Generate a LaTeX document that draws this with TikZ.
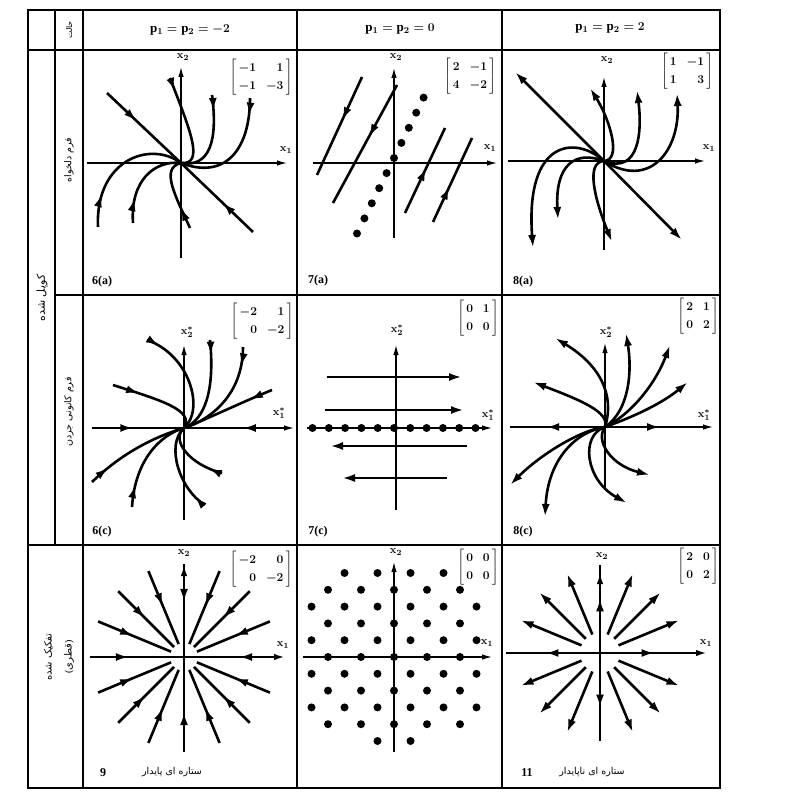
\documentclass[tikz,border=0pt]{standalone}
\usepackage{fontspec}
\setmainfont{Liberation Serif}
\newfontfamily\arabicfont[Script=Arabic]{DejaVu Sans}
\TeXXeTstate=1
\usetikzlibrary{arrows.meta,decorations.markings}
\newcommand{\sysmat}[1]{$\left[\begin{array}{@{\,}rr@{\,}}#1\end{array}\right]$}
\newcommand{\persian}[1]{{\arabicfont\beginR #1\endR}}
\renewcommand{\arraystretch}{1.3}

\begin{document}
\begin{tikzpicture}[x=1pt, y=-1pt,
  rule/.style={line width=1.5pt},
  axisline/.style={line width=1.2pt, -{Latex[length=10pt,width=5.5pt]}},
  flow/.style={line width=2.6pt},
  tipout/.style={flow, -{Latex[length=13pt,width=8pt]}},
  midarrow/.style={postaction={decorate,decoration={markings,mark=at position #1 with {\arrow{Latex[length=13pt,width=8pt]}}}}},
  axlabel/.style={font=\fontsize{11}{13}\selectfont\boldmath, inner sep=0pt},
  matnode/.style={font=\fontsize{11.5}{14}\selectfont\boldmath, inner sep=0pt},
  caption/.style={font=\fontsize{12}{14}\selectfont\bfseries, inner sep=1pt},
  head/.style={font=\fontsize{13}{15}\selectfont\boldmath},
  fatext/.style={font=\fontsize{9.5}{11}\selectfont, rotate=90, inner sep=1pt, align=center}
]
\useasboundingbox (0,0) rectangle (795,802);

% table rules
\draw[rule] (28,10) rectangle (720,788);
\draw[rule] (28,50) -- (720,50);
\draw[rule] (55,295) -- (720,295);
\draw[rule] (28,545) -- (720,545);
\draw[rule] (55,10) -- (55,545);
\draw[rule] (83,10) -- (83,788);
\draw[rule] (297,10) -- (297,788);
\draw[rule] (502,10) -- (502,788);

% headers
\node[fatext, font=\fontsize{8}{9}\selectfont] (kind) at (69,30) {\persian{حالت}};
\node[head] (hneg) at (190,30) {$\mathrm{p}_1=\mathrm{p}_2=-2$};
\node[head] (hzero) at (400,29) {$\mathrm{p}_1=\mathrm{p}_2=0$};
\node[head] (hpos) at (610,28) {$\mathrm{p}_1=\mathrm{p}_2=2$};
\node[fatext, font=\fontsize{11}{13}\selectfont] (coupled) at (42,298) {\persian{کوپل شده}};
\node[fatext] (arbitrary) at (69,160) {\persian{فرم دلخواه}};
\node[fatext] (jordan) at (69,412) {\persian{فرم کانونی جردن}};
\node[fatext, font=\fontsize{10}{20}\selectfont] (decoupled) at (59,657) {\persian{تفکیک شده}\\(\persian{قطری})};

% 6(a)
\draw[axisline] (87,163) -- (287,163);
\draw[axisline] (181,258) -- (181,67);
\node[axlabel] (x1a) at (286,150) {$\mathbf{x}_1$};
\node[axlabel] (x2a) at (183,57) {$\mathbf{x}_2$};
\node[matnode] (ma) at (261,77) {\sysmat{-1 & 1\\ -1 & -3}};
\node[caption] (c6a) at (102,282) {6(a)};
\draw[flow, midarrow=0.4] (107,93) -- (181,163);
\draw[flow, midarrow=0.42] (253,232) -- (181,163);
\draw[flow, midarrow=0.14] (170,78) .. controls (190,130) and (205,165) .. (181,163);
\draw[flow, midarrow=0.18] (212,95) .. controls (218,140) and (210,168) .. (181,163);
\draw[flow, midarrow=0.15] (250,98) .. controls (250,150) and (225,180) .. (181,163);
\draw[flow, midarrow=0.25] (98,227) .. controls (95,160) and (150,140) .. (181,163);
\draw[flow, midarrow=0.28] (133,223) .. controls (130,180) and (155,160) .. (181,163);
\draw[flow, midarrow=0.3] (190,228) .. controls (175,195) and (160,168) .. (181,163);

% 7(a)
\draw[axisline] (313,163) -- (497,163);
\draw[axisline] (394,238) -- (394,68);
\node[axlabel] (x1b) at (490,148) {$\mathbf{x}_1$};
\node[axlabel] (x2b) at (396,57) {$\mathbf{x}_2$};
\node[matnode] (mb) at (470,76) {\sysmat{2 & -1\\ 4 & -2}};
\node[caption] (c7a) at (318,281) {7(a)};
\foreach \k in {-5,...,4}
  \fill ({394+\k*7.4},{158-\k*15.1}) circle (4);
\draw[flow, midarrow=0.44] (362,77) -- (317,175);
\draw[flow, midarrow=0.44] (397,85) -- (333,203);
\draw[flow, midarrow=0.53] (405,213) -- (445,128);
\draw[flow, midarrow=0.42] (433,222) -- (472,138);

% 8(a)
\draw[axisline] (508,161) -- (705,161);
\draw[axisline] (604,250) -- (604,77);
\node[axlabel] (x1c) at (709,148) {$\mathbf{x}_1$};
\node[axlabel] (x2c) at (607,60) {$\mathbf{x}_2$};
\node[matnode] (mc) at (687,71) {\sysmat{1 & -1\\ 1 & 3}};
\node[caption] (c8a) at (523,282) {8(a)};
\draw[tipout] (604,161) -- (515,72);
\draw[tipout] (604,161) -- (682,240);
\draw[tipout] (604,161) .. controls (622,160) and (610,120) .. (590,88);
\draw[tipout] (604,161) .. controls (640,175) and (642,130) .. (637,90);
\draw[tipout] (604,161) .. controls (650,190) and (680,150) .. (677,93);
\draw[tipout] (604,161) .. controls (575,135) and (525,140) .. (533,248);
\draw[tipout] (604,161) .. controls (575,150) and (555,165) .. (558,220);
\draw[tipout] (604,161) .. controls (585,162) and (595,200) .. (612,242);

% 6(c)
\draw[axisline] (92,428) -- (294,428);
\draw[axisline] (184,520) -- (184,345);
\node[axlabel] (x1d) at (279,413) {$\mathbf{x}_1^{*}$};
\node[axlabel] (x2d) at (187,332) {$\mathbf{x}_2^{*}$};
\node[matnode] (md) at (262,321) {\sysmat{-2 & 1\\ 0 & -2}};
\node[caption] (c6c) at (102,532) {6(c)};
\draw[flow, midarrow=0.45] (92,428) -- (184,428);
\draw[flow, midarrow=0.4] (282,428) -- (184,428);
\draw[flow, midarrow=0.12] (147,340) .. controls (190,355) and (205,410) .. (184,428);
\draw[flow, midarrow=0.15] (210,340) .. controls (215,390) and (205,420) .. (184,428);
\draw[flow, midarrow=0.18] (243,347) .. controls (243,395) and (210,420) .. (184,428);
\draw[flow, midarrow=0.25] (272,390) .. controls (240,403) and (205,420) .. (184,428);
\draw[flow, midarrow=0.3] (113,385) .. controls (160,400) and (195,410) .. (184,428);
\draw[flow, midarrow=0.2] (92,482) .. controls (125,450) and (160,435) .. (184,428);
\draw[flow, midarrow=0.22] (132,507) .. controls (135,460) and (160,435) .. (184,428);
\draw[flow, midarrow=0.15] (205,505) .. controls (180,490) and (165,445) .. (184,428);
\draw[flow, midarrow=0.2] (222,473) .. controls (190,465) and (170,440) .. (184,428);

% 7(c)
\draw[axisline] (307,428) -- (492,428);
\draw[axisline] (396,510) -- (396,345);
\node[axlabel] (x1e) at (488,415) {$\mathbf{x}_1^{*}$};
\node[axlabel] (x2e) at (397,330) {$\mathbf{x}_2^{*}$};
\node[matnode] (me) at (478,318) {\sysmat{0 & 1\\ 0 & 0}};
\node[caption] (c7c) at (318,532) {7(c)};
\foreach \k in {-5,...,5}
  \fill ({394+\k*16.3},428) circle (4);
\draw[tipout] (327,377) -- (462,377);
\draw[tipout] (325,410) -- (464,410);
\draw[tipout] (467,446) -- (330,446);
\draw[tipout] (447,478) -- (342,478);

% 8(c)
\draw[axisline] (510,427) -- (713,427);
\draw[axisline] (605,490) -- (605,343);
\node[axlabel] (x1f) at (704,415) {$\mathbf{x}_1^{*}$};
\node[axlabel] (x2f) at (606,332) {$\mathbf{x}_2^{*}$};
\node[matnode] (mf) at (698,316) {\sysmat{2 & 1\\ 0 & 2}};
\node[caption] (c8c) at (523,532) {8(c)};
\draw[flow, midarrow=0.62] (605,427) -- (510,427);
\draw[flow, midarrow=0.58] (605,427) -- (700,427);
\draw[tipout] (605,427) .. controls (615,395) and (600,365) .. (555,338);
\draw[tipout] (605,427) .. controls (610,412) and (580,400) .. (533,382);
\draw[tipout] (605,427) .. controls (630,410) and (632,370) .. (626,333);
\draw[tipout] (605,427) .. controls (630,415) and (655,385) .. (670,345);
\draw[tipout] (605,427) .. controls (630,418) and (660,405) .. (688,382);
\draw[tipout] (605,427) .. controls (580,430) and (540,455) .. (510,485);
\draw[tipout] (605,427) .. controls (575,432) and (548,460) .. (545,517);
\draw[tipout] (605,427) .. controls (580,435) and (585,480) .. (627,503);
\draw[tipout] (605,427) .. controls (595,440) and (610,465) .. (650,475);

% 9 (stable star)
\begin{scope}[shift={(184,657)}]
  \foreach \a in {0,22.5,...,337.5}
    \draw[flow, midarrow=0.48] (\a:93) -- (\a:14);
  \draw[flow, -{Latex[length=11pt,width=6.5pt]}] (-94,0) -- (101,0);
  \draw[flow, -{Latex[length=11pt,width=6.5pt]}] (0,95) -- (0,-92);
\end{scope}
\node[axlabel] (x1g) at (283,645) {$\mathbf{x}_1$};
\node[axlabel] (x2g) at (184,553) {$\mathbf{x}_2$};
\node[matnode] (mg) at (261,569) {\sysmat{-2 & 0\\ 0 & -2}};
\node[caption] (c9) at (103,773) {9};
\node[font=\fontsize{9.5}{11}\selectfont] (stable) at (172,772) {\persian{ستاره ای پایدار}};

% zero matrix (dots)
\draw[axisline] (303,657) -- (492,657);
\draw[axisline] (394,752) -- (394,562);
\node[axlabel] (x1h) at (487,643) {$\mathbf{x}_1$};
\node[axlabel] (x2h) at (396,552) {$\mathbf{x}_2$};
\node[matnode] (mh) at (478,567) {\sysmat{0 & 0\\ 0 & 0}};
\begin{scope}[shift={(394,657)}]
  \foreach \j/\kmin/\kmax/\off in {-5/-2/1/0.5, -4/-2/2/0, -3/-3/2/0.5, -2/-2/2/0, -1/-3/2/0.5,
      0/-2/2/0, 1/-3/2/0.5, 2/-2/2/0, 3/-3/2/0.5, 4/-2/2/0, 5/-1/0/0.5}
    \foreach \k in {\kmin,...,\kmax}
      \fill ({(\k+\off)*33},{\j*16.8}) circle (4);
\end{scope}

% 11 (unstable star)
\begin{scope}[shift={(600,653)}]
  \foreach \a in {22.5,45,67.5,112.5,135,157.5,202.5,225,247.5,292.5,315,337.5}
    \draw[tipout] (\a:20) -- (\a:86);
  \foreach \a in {0,90,180,270}
    \draw[flow, midarrow=0.62] (0,0) -- (\a:88);
  \draw[flow, -{Latex[length=11pt,width=6.5pt]}] (-94,0) -- (107,0);
  \draw[flow, -{Latex[length=11pt,width=6.5pt]}] (0,87) -- (0,-80);
\end{scope}
\node[axlabel] (x1i) at (706,643) {$\mathbf{x}_1$};
\node[axlabel] (x2i) at (602,556) {$\mathbf{x}_2$};
\node[matnode] (mi) at (698,566) {\sysmat{2 & 0\\ 0 & 2}};
\node[caption] (c11) at (527,773) {11};
\node[font=\fontsize{9.5}{11}\selectfont] (unstable) at (592,772) {\persian{ستاره ای ناپایدار}};
\end{tikzpicture}
\end{document}
